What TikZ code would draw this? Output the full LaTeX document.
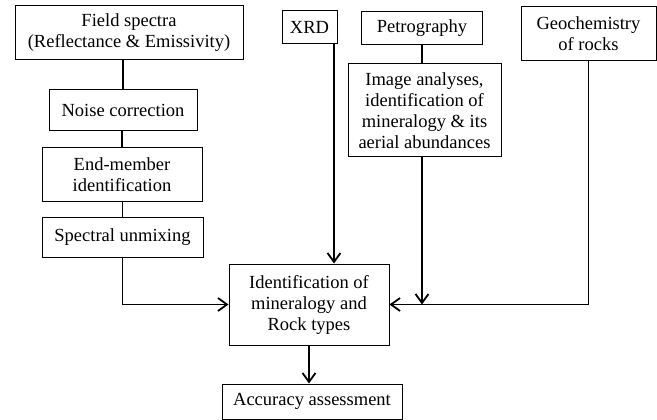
\documentclass[tikz,border=0pt]{standalone}
\usepackage{fontspec}
\setmainfont{Liberation Serif}
\usetikzlibrary{arrows.meta}
\tikzset{
  box/.style={draw, line width=1pt, inner sep=0pt, align=center,
    font=\fontsize{18.5}{21}\selectfont},
  con/.style={line width=1.8pt},
  arr/.style={line width=1.8pt, -{Straight Barb[length=9pt, width=13pt]}},
}
\newcommand{\bx}[6]{\node[box, minimum width=#4pt, minimum height=#5pt] (#1) at (#2,#3) {#6};}

\begin{document}
\begin{tikzpicture}[x=1pt, y=-1pt]
\useasboundingbox (0,0) rectangle (657,420);

\bx{field}{129}{33}{228}{54}{Field spectra\\(Reflectance \& Emissivity)}
\bx{noise}{123}{110.5}{148}{41}{Noise correction}
\bx{endm}{122}{174.5}{160}{53}{End-member\\identification}
\bx{unmix}{122.5}{237}{161}{40}{Spectral unmixing}
\bx{xrd}{309.5}{27.5}{55}{33}{XRD}
\bx{petro}{422}{28.5}{121}{33}{Petrography}
\bx{image}{424.5}{110.5}{153}{93}{Image analyses,\\identification of\\mineralogy \& its\\aerial abundances}
\bx{geo}{588.5}{34}{135}{54}{Geochemistry\\of rocks}
\bx{ident}{309}{304.5}{160}{81}{Identification of\\mineralogy and\\Rock types}
\bx{acc}{312}{401.5}{180}{35}{Accuracy assessment}

\draw[con] (noise.north) -- (noise.north |- field.south);
\draw[con] (endm.north) -- (endm.north |- noise.south);
\draw[con] (unmix.north) -- (unmix.north |- endm.south);
\draw[arr] (unmix.south) |- (ident.west);
\draw[arr] ([xshift=24.5pt]xrd.south) -- ([xshift=24.5pt]xrd.south |- ident.north);
\draw[con] (petro.south) -- (petro.south |- image.north);
\draw[arr] (petro.south |- image.south) -- (petro.south |- ident.east);
\draw[arr] (geo.south) |- (ident.east);
\draw[arr] (ident.south) -- (ident.south |- acc.north);

\end{tikzpicture}
\end{document}
